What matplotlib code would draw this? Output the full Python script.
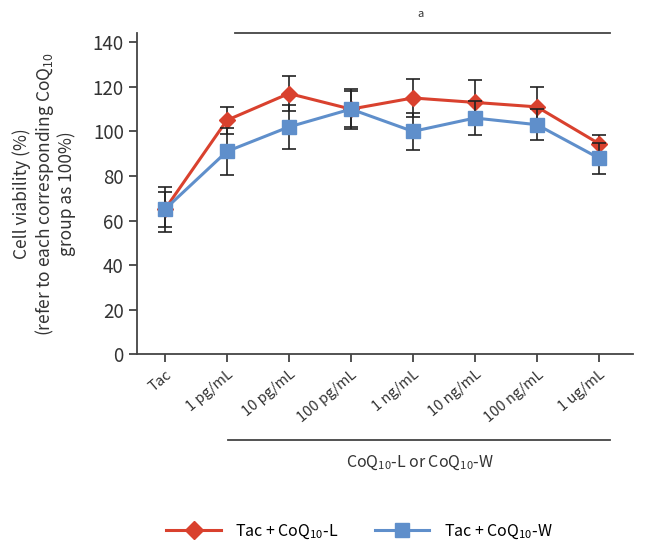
import numpy as np
import matplotlib
matplotlib.use("Agg")
import matplotlib.pyplot as plt
from matplotlib.lines import Line2D

plt.rcParams['font.family'] = ['Noto Sans CJK KR', 'DejaVu Sans']
plt.rcParams['mathtext.fontset'] = 'custom'
plt.rcParams['mathtext.rm'] = 'Noto Sans CJK KR'
plt.rcParams['mathtext.default'] = 'regular'

labels = ['Tac', '1 pg/mL', '10 pg/mL', '100 pg/mL', '1 ng/mL', '10 ng/mL', '100 ng/mL', '1 ug/mL']
red_vals = [65, 105, 117, 110, 115, 113, 111, 94.5]
red_err = [8, 6, 8, 8, 8.5, 10, 9, 4]
blue_vals = [65, 91, 102, 110, 100, 106, 103, 88]
blue_err = [10, 10.5, 10, 9, 8.3, 7.5, 7, 7]

red = '#D9412E'
blue = '#5F8FCB'
txt = '#333333'

fig = plt.figure(figsize=(6.46, 5.56), dpi=100)
ax = fig.add_axes([0.212, 0.363, 0.768, 0.577])
x = np.arange(len(labels))

ax.errorbar(x, red_vals, yerr=red_err, color=red, lw=2.2, marker='D', ms=8,
            ecolor='#222222', elinewidth=1.2, capsize=5, capthick=1.2, zorder=3)
ax.errorbar(x, blue_vals, yerr=blue_err, color=blue, lw=2.2, marker='s', ms=10.5,
            ecolor='#222222', elinewidth=1.2, capsize=5, capthick=1.2, zorder=4)

ax.set_xlim(-0.45, 7.55)
ax.set_ylim(0, 144)
ax.set_yticks(range(0, 141, 20))
ax.set_xticks(x)
ax.set_xticklabels(labels, rotation=40, ha='right', rotation_mode='anchor', fontsize=10.5, color=txt)
ax.tick_params(axis='y', labelsize=13.5, colors=txt, length=6, width=1.2)
ax.tick_params(axis='x', length=6, width=1.2, colors=txt)
for s in ['top', 'right']:
    ax.spines[s].set_visible(False)
for s in ['left', 'bottom']:
    ax.spines[s].set_linewidth(1.3)
    ax.spines[s].set_color('#444444')

ax.set_ylabel('Cell viability (%)\n(refer to each corresponding CoQ$_{10}$\ngroup as 100%)',
              fontsize=12.5, color=txt, labelpad=12, linespacing=1.1)

# significance line at top
fig.add_artist(Line2D([235/646, 610/646], [1-33/556, 1-33/556], color='#444444', lw=1.3))
fig.text(420/646, 1-14/556, 'a', ha='center', va='center', fontsize=8, color=txt)

# bracket below x labels
fig.add_artist(Line2D([228/646, 610/646], [1-440/556, 1-440/556], color='#444444', lw=1.3))
fig.text(420/646, 1-463/556, 'CoQ$_{10}$-L or CoQ$_{10}$-W', ha='center', va='center', fontsize=11.5, color=txt)

# legend
h1 = Line2D([], [], color=red, lw=2.2, marker='D', ms=9)
h2 = Line2D([], [], color=blue, lw=2.2, marker='s', ms=10.5)
fig.legend([h1, h2], ['Tac + CoQ$_{10}$-L', 'Tac + CoQ$_{10}$-W'], loc='center left',
           bbox_to_anchor=(152/646, 1-532/556), ncol=2, frameon=False, fontsize=11.5,
           handlelength=3.4, columnspacing=2.3, handletextpad=0.9)

fig.savefig('out.png', dpi=100)
